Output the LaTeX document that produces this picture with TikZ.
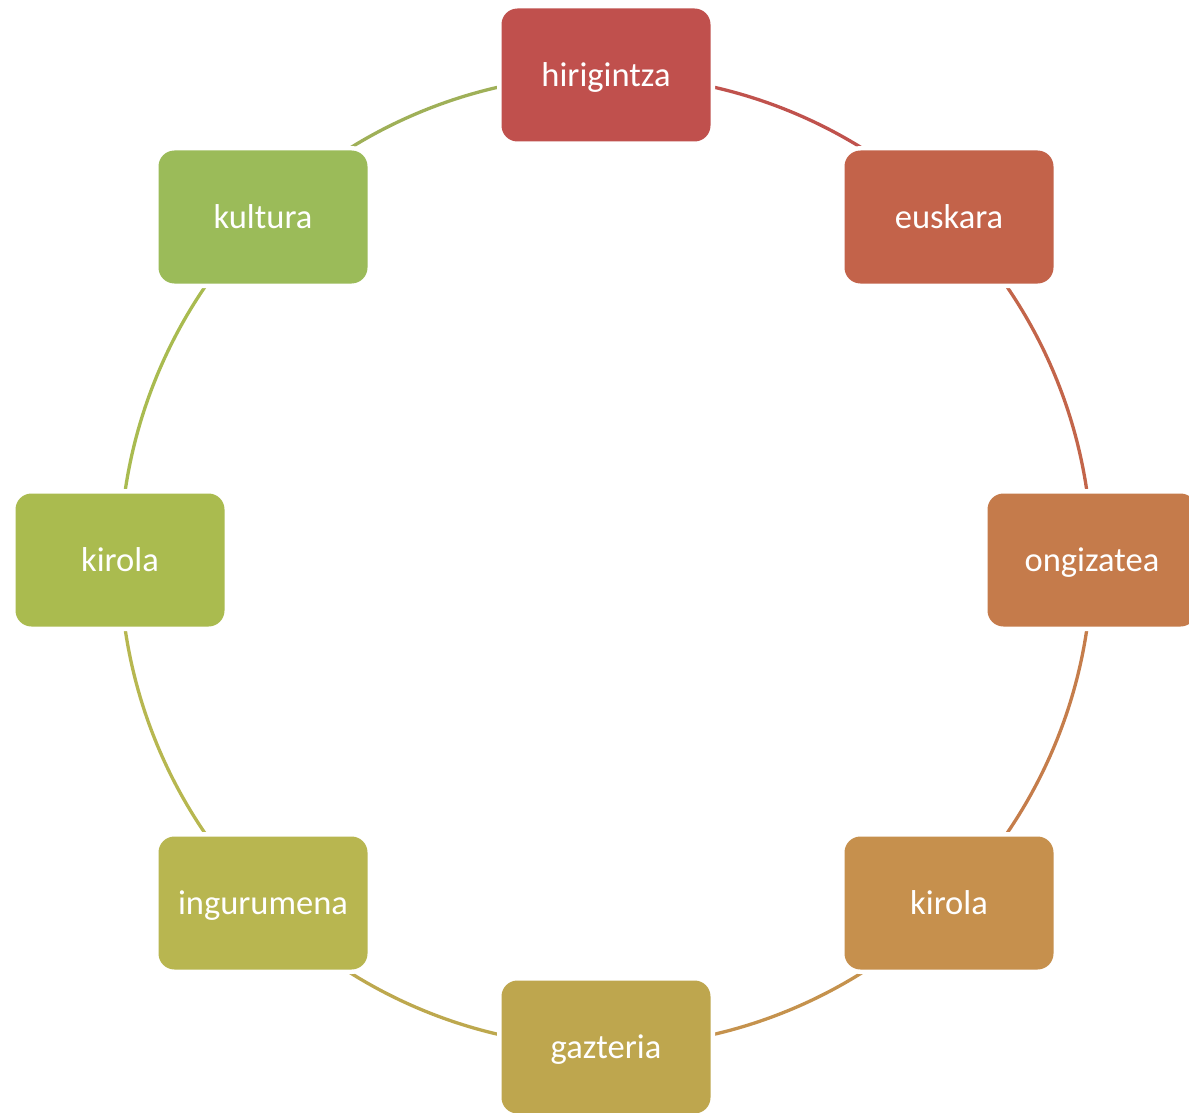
\documentclass[tikz,border=0pt]{standalone}
\usepackage{fontspec}
\setmainfont{Carlito}
\definecolor{cA}{HTML}{C0504D}
\definecolor{cB}{HTML}{C3634A}
\definecolor{cC}{HTML}{C57B4B}
\definecolor{cD}{HTML}{C6904D}
\definecolor{cE}{HTML}{BEA64E}
\definecolor{cF}{HTML}{B8B650}
\definecolor{cG}{HTML}{AABB4F}
\definecolor{cH}{HTML}{9BBB59}
\begin{document}
\begin{tikzpicture}[x=1pt,y=-1pt,
  item/.style={rectangle, rounded corners=16pt, minimum width=209pt, minimum height=133pt,
    text=white, font=\fontsize{34.5}{40}\selectfont, inner sep=0pt, text depth=0pt,
    preaction={draw=white, line width=9pt}},
  link/.style={line width=3.3pt, bend left=22.5, looseness=0.885}]
\useasboundingbox (0,0) rectangle (1189,1113);
\coordinate (c1) at (606,75);
\coordinate (c2) at (949,217);
\coordinate (c3) at (1092,560);
\coordinate (c4) at (949,903);
\coordinate (c5) at (606,1047);
\coordinate (c6) at (263,903);
\coordinate (c7) at (120,560);
\coordinate (c8) at (263,217);
\draw[link, cA!90!cB] (c1) to (c2);
\draw[link, cB!90!cC] (c2) to (c3);
\draw[link, cC!90!cD] (c3) to (c4);
\draw[link, cD!90!cE] (c4) to (c5);
\draw[link, cE!90!cF] (c5) to (c6);
\draw[link, cF!90!cG] (c6) to (c7);
\draw[link, cG!90!cH] (c7) to (c8);
\draw[link, cH!90!cA] (c8) to (c1);
\node[item, fill=cA] (n1) at (c1) {hirigintza};
\node[item, fill=cB] (n2) at (c2) {euskara};
\node[item, fill=cC] (n3) at (c3) {ongizatea};
\node[item, fill=cD] (n4) at (c4) {kirola};
\node[item, fill=cE] (n5) at (c5) {gazteria};
\node[item, fill=cF] (n6) at (c6) {ingurumena};
\node[item, fill=cG] (n7) at (c7) {kirola};
\node[item, fill=cH] (n8) at (c8) {kultura};
\end{tikzpicture}
\end{document}
